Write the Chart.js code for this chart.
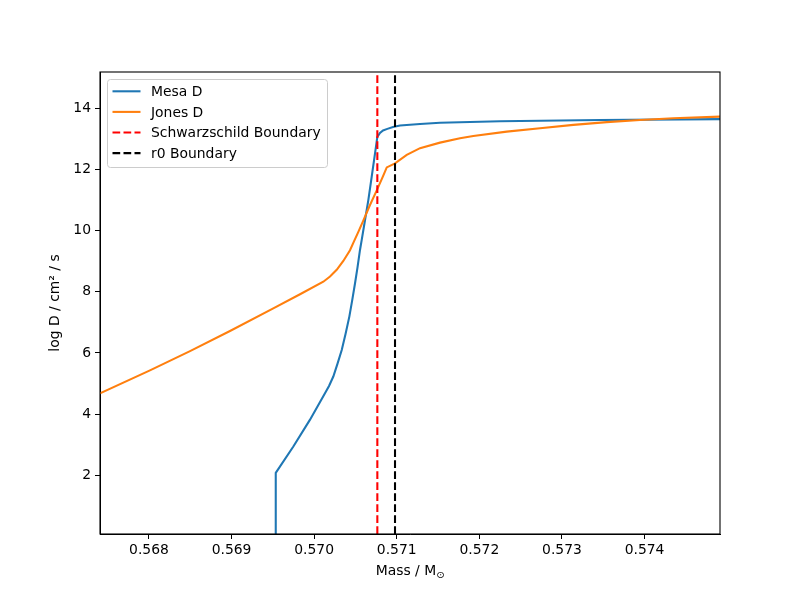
<!DOCTYPE html>
<html>
<head>
<meta charset="utf-8">
<script src="https://cdn.jsdelivr.net/npm/chart.js@4"></script>
<style>
  html, body { margin: 0; padding: 0; background: #fff; }
  canvas { display: block; }
</style>
</head>
<body>
<canvas id="chart" width="800" height="600"></canvas>
<script>
// Mesa D curve (mass in solar masses, log D)
const mesaMass = [0.569535, 0.569535, 0.569748, 0.569950, 0.570131, 0.570180, 0.570232, 0.570283,
  0.570334, 0.570380, 0.570426, 0.570461, 0.570495, 0.570525, 0.570555, 0.570576, 0.570616,
  0.570656, 0.570697, 0.570737, 0.570765, 0.570797, 0.570834, 0.570886, 0.570955, 0.571040,
  0.571282, 0.571524, 0.572251, 0.573461, 0.574914];
const mesaLogD = [0.0, 2.08, 2.94, 3.82, 4.68, 4.92, 5.23, 5.65,
  6.10, 6.62, 7.19, 7.73, 8.28, 8.80, 9.37, 9.70, 10.35,
  11.00, 11.77, 12.53, 13.07, 13.20, 13.28, 13.33, 13.39, 13.44,
  13.49, 13.53, 13.58, 13.62, 13.65];

// Jones D curve
const jonesMass = [0.567407, 0.568012, 0.568497, 0.568981, 0.569505, 0.569829, 0.570111, 0.570192,
  0.570273, 0.570353, 0.570434, 0.570474, 0.570535, 0.570595, 0.570676, 0.570758, 0.570837,
  0.570879, 0.570979, 0.571121, 0.571282, 0.571524, 0.571766, 0.571927, 0.572332, 0.572735,
  0.573138, 0.573543, 0.573946, 0.574349, 0.574914];
const jonesLogD = [4.68, 5.43, 6.06, 6.72, 7.46, 7.92, 8.33, 8.50,
  8.72, 9.01, 9.36, 9.60, 9.96, 10.33, 10.84, 11.32, 11.80,
  12.07, 12.20, 12.48, 12.70, 12.88, 13.02, 13.10, 13.24, 13.35,
  13.46, 13.55, 13.62, 13.68, 13.73];

// boundaries
const schwarzschildMass = 0.570765;
const r0Mass = 0.570979;

// axes
const xMin = 0.567407, xMax = 0.574914;
const yMin = 0.08, yMax = 15.19;
const xTicks = [0.568, 0.569, 0.570, 0.571, 0.572, 0.573, 0.574];
const yTicks = [2, 4, 6, 8, 10, 12, 14];
const xTitle = "Mass / M";
const xTitleSub = "\u2299";
const yTitle = "log D / cm\u00b2 / s";

const FONT = "DejaVu Sans";
const FS = 13.9;

function toPoints(xs, ys) {
  return xs.map((x, i) => ({ x: x, y: ys[i] }));
}

// draws the frame, axis titles and a matplotlib-like legend
const decorations = {
  id: 'decorations',
  afterDraw(chart) {
    const ctx = chart.ctx;
    const a = chart.chartArea;
    ctx.save();
    ctx.strokeStyle = '#000';
    ctx.lineWidth = 1.1;
    ctx.strokeRect(a.left, a.top, a.right - a.left, a.bottom - a.top);

    // x title with subscript sun symbol
    ctx.fillStyle = '#000';
    ctx.font = FS + 'px "' + FONT + '"';
    const mainW = ctx.measureText(xTitle).width;
    ctx.font = (FS * 0.7) + 'px "' + FONT + '"';
    const subW = ctx.measureText(xTitleSub).width;
    const cx = (a.left + a.right) / 2;
    const startX = cx - (mainW + subW) / 2;
    const base = 575;
    ctx.textBaseline = 'alphabetic';
    ctx.textAlign = 'left';
    ctx.font = FS + 'px "' + FONT + '"';
    ctx.fillText(xTitle, startX, base);
    ctx.font = (FS * 0.7) + 'px "' + FONT + '"';
    ctx.fillText(xTitleSub, startX + mainW, base + 3);

    // y title
    ctx.save();
    ctx.translate(55, (a.top + a.bottom) / 2);
    ctx.rotate(-Math.PI / 2);
    ctx.font = FS + 'px "' + FONT + '"';
    ctx.textAlign = 'center';
    ctx.textBaseline = 'middle';
    ctx.fillText(yTitle, 0, 0);
    ctx.restore();

    // legend
    const lx = a.left + 7.5, ly = a.top + 7.5, lw = 220, lh = 88, r = 3;
    ctx.beginPath();
    ctx.moveTo(lx + r, ly);
    ctx.arcTo(lx + lw, ly, lx + lw, ly + lh, r);
    ctx.arcTo(lx + lw, ly + lh, lx, ly + lh, r);
    ctx.arcTo(lx, ly + lh, lx, ly, r);
    ctx.arcTo(lx, ly, lx + lw, ly, r);
    ctx.closePath();
    ctx.fillStyle = 'rgba(255,255,255,0.8)';
    ctx.fill();
    ctx.strokeStyle = '#cccccc';
    ctx.lineWidth = 1;
    ctx.stroke();

    ctx.font = FS + 'px "' + FONT + '"';
    ctx.textAlign = 'left';
    ctx.textBaseline = 'middle';
    chart.data.datasets.forEach((ds, i) => {
      const ry = a.top + 19.3 + i * 20.6;
      ctx.beginPath();
      ctx.setLineDash(ds.borderDash || []);
      ctx.strokeStyle = ds.borderColor;
      ctx.lineWidth = 2.08;
      ctx.moveTo(a.left + 12.5, ry);
      ctx.lineTo(a.left + 40.5, ry);
      ctx.stroke();
      ctx.setLineDash([]);
      ctx.fillStyle = '#000';
      ctx.fillText(ds.label, a.left + 51, ry + 1);
    });
    ctx.restore();
  }
};

const dash = [7.7, 3.3];

new Chart(document.getElementById('chart'), {
  type: 'scatter',
  data: {
    datasets: [{
      label: 'Mesa D',
      data: toPoints(mesaMass, mesaLogD),
      borderColor: '#1f77b4', showLine: true, borderWidth: 2.08, pointRadius: 0, order: 4
    }, {
      label: 'Jones D',
      data: toPoints(jonesMass, jonesLogD),
      borderColor: '#ff7f0e', showLine: true, borderWidth: 2.08, pointRadius: 0, order: 3
    }, {
      label: 'Schwarzschild Boundary',
      data: toPoints([schwarzschildMass, schwarzschildMass], [yMin, yMax]),
      borderColor: '#ff0000', borderDash: dash, showLine: true, borderWidth: 2.08, pointRadius: 0, order: 2
    }, {
      label: 'r0 Boundary',
      data: toPoints([r0Mass, r0Mass], [yMin, yMax]),
      borderColor: '#000000', borderDash: dash, showLine: true, borderWidth: 2.08, pointRadius: 0, order: 1
    }]
  },
  options: {
    responsive: false,
    animation: false,
    devicePixelRatio: 1,
    layout: { padding: { top: 72, right: 80, left: 0, bottom: 0 } },
    plugins: { legend: { display: false }, tooltip: { enabled: false } },
    scales: {
      x: {
        type: 'linear', min: xMin, max: xMax,
        afterFit: s => { s.height = 66; },
        afterBuildTicks: s => { s.ticks = xTicks.map(v => ({ value: v })); },
        grid: { drawOnChartArea: false, drawTicks: true, tickLength: 5, color: '#000', lineWidth: 1 },
        border: { display: true, color: '#000', width: 1 },
        ticks: {
          color: '#000', padding: 3, maxRotation: 0, autoSkip: false,
          font: { family: FONT, size: FS },
          callback: v => v.toFixed(3)
        }
      },
      y: {
        type: 'linear', min: yMin, max: yMax,
        afterFit: s => { s.width = 100; },
        afterBuildTicks: s => { s.ticks = yTicks.map(v => ({ value: v })); },
        grid: { drawOnChartArea: false, drawTicks: true, tickLength: 5, color: '#000', lineWidth: 1 },
        border: { display: true, color: '#000', width: 1 },
        ticks: {
          color: '#000', padding: 4, autoSkip: false,
          font: { family: FONT, size: FS },
          callback: v => String(v)
        }
      }
    }
  },
  plugins: [decorations]
});
</script>
</body>
</html>
